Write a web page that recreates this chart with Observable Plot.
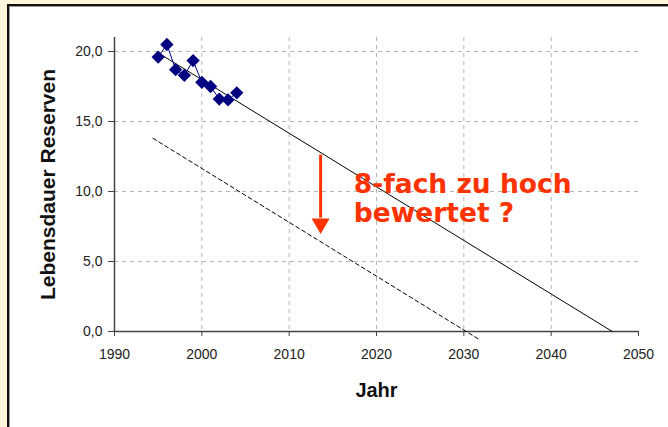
<!DOCTYPE html>
<html>
<head>
<meta charset="utf-8">
<script src="https://cdn.jsdelivr.net/npm/d3@7"></script>
<script src="https://cdn.jsdelivr.net/npm/@observablehq/plot@0.6"></script>
<style>
  html, body { margin: 0; padding: 0; }
  body { width: 668px; height: 427px; overflow: hidden; background: #FFF6DC; position: relative; }
  #panel { position: absolute; left: 7px; top: 4px; width: 700px; height: 500px; background: #fff;
           border-left: 2px solid #111; border-top: 2px solid #111; box-shadow: inset 1px 1px 0 #999; }
  #chart { position: absolute; left: 0; top: 0; }
  #chart svg { background: transparent; overflow: visible; }
</style>
</head>
<body>
<div id="panel"></div>
<div id="chart"></div>
<script>
// Data
const years = [1995, 1996, 1997, 1998, 1999, 2000, 2001, 2002, 2003, 2004];
const reserves = [19.6, 20.5, 18.7, 18.3, 19.35, 17.8, 17.5, 16.6, 16.55, 17.05];

const trendYears = [1995, 2047];
const trendValues = [19.9, 0];

const lowYears = [1994.4, 2031.7];
const lowValues = [13.8, -0.55];

const arrowYear = [2013.6];
const arrowStart = [12.6];
const arrowHeadBase = [8.1];
const arrowHeadCenter = [7.7];

const noteYear = [2017.4];
const noteValue = [7.84];
const noteText = ["8-fach zu hoch\nbewertet ?"];

const xTicks = [1990, 2000, 2010, 2020, 2030, 2040, 2050];
const yTicks = [0, 5, 10, 15, 20];
const xGrid = [2000, 2010, 2020, 2030, 2040];
const yGrid = [5, 10, 15, 20];
const xLabel = "Jahr";
const yLabel = "Lebensdauer Reserven";

const points = years.map((y, i) => ({year: y, value: reserves[i]}));
const trend = trendYears.map((y, i) => ({year: y, value: trendValues[i]}));
const low = lowYears.map((y, i) => ({year: y, value: lowValues[i]}));
const arrow = arrowYear.map((y, i) => ({year: y, y1: arrowStart[i], y2: arrowHeadBase[i], head: arrowHeadCenter[i]}));
const note = noteYear.map((y, i) => ({year: y, value: noteValue[i], text: noteText[i]}));

const red = "#FF3300";
const gridColor = "#b4b4b4";
const axisColor = "#444";
const sans = "'Liberation Sans', Arial, sans-serif";

const chart = Plot.plot({
  width: 668,
  height: 427,
  marginLeft: 114,
  marginRight: 30,
  marginTop: 37,
  marginBottom: 96,
  style: {fontFamily: sans, fontSize: "14px", color: "#222", background: "transparent"},
  x: {domain: [1990, 2050]},
  y: {domain: [0, 21]},
  marks: [
    Plot.gridX(xGrid, {stroke: gridColor, strokeOpacity: 1, strokeDasharray: "4,4"}),
    Plot.gridY(yGrid, {stroke: gridColor, strokeOpacity: 1, strokeDasharray: "4,4"}),
    Plot.axisX({ticks: xTicks, tickFormat: d => String(d), tickSize: 5, tickPadding: 13, stroke: axisColor, label: null, fontSize: 14}),
    Plot.axisY({ticks: yTicks, tickFormat: d => d.toFixed(1).replace(".", ","), tickSize: 6, tickPadding: 6, stroke: axisColor, label: null, fontSize: 14}),
    Plot.ruleX([1990], {stroke: axisColor, strokeWidth: 1.5}),
    Plot.ruleY([0], {stroke: axisColor, strokeWidth: 1.5}),
    Plot.line(trend, {x: "year", y: "value", stroke: "#000", strokeWidth: 1}),
    Plot.line(low, {x: "year", y: "value", stroke: "#000", strokeWidth: 1, strokeDasharray: "4,3"}),
    Plot.line(points, {x: "year", y: "value", stroke: "#000080", strokeWidth: 1}),
    Plot.dot(points, {x: "year", y: "value", symbol: "diamond2", r: 6, fill: "#000080", stroke: "none"}),
    Plot.ruleX(arrow, {x: "year", y1: "y1", y2: "y2", stroke: red, strokeWidth: 3}),
    Plot.dot(arrow, {x: "year", y: "head", symbol: "triangle", r: 6.7, rotate: 180, fill: red, stroke: "none"}),
    Plot.text(note, {x: "year", y: "value", text: "text", textAnchor: "start", lineAnchor: "bottom", lineHeight: 1.1,
      fill: red, fontSize: 26.5, fontWeight: "bold", fontFamily: "'DejaVu Sans', Verdana, sans-serif"}),
    Plot.text([xLabel], {frameAnchor: "bottom", textAnchor: "middle", dy: 65, lineAnchor: "bottom", fontSize: 20, fontWeight: "bold", fill: "#111"}),
    Plot.text([yLabel], {frameAnchor: "left", textAnchor: "middle", dx: -60, rotate: -90, lineAnchor: "bottom", fontSize: 21, fontWeight: "bold", fill: "#111"})
  ]
});
document.getElementById("chart").appendChild(chart);
</script>
</body>
</html>
